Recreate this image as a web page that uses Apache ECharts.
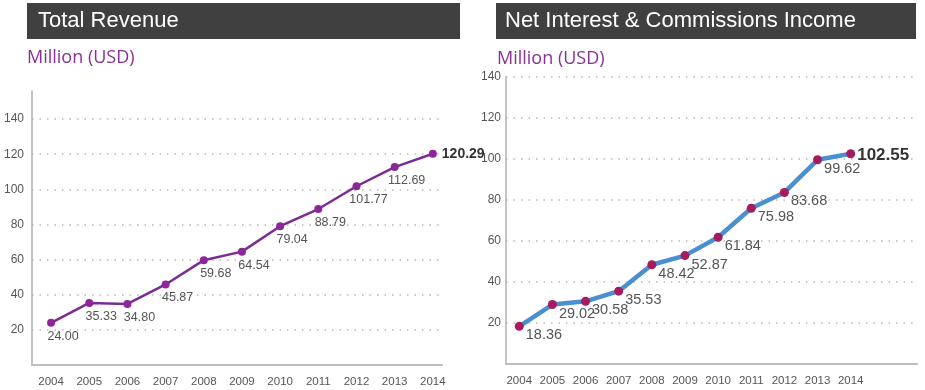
<!DOCTYPE html>
<html>
<head>
<meta charset="utf-8">
<script src="https://cdn.jsdelivr.net/npm/echarts@6/dist/echarts.min.js"></script>
<style>
html,body{margin:0;padding:0;background:#fff;}
#chart{width:925px;height:390px;}
</style>
</head>
<body>
<div id="chart"></div>
<script>
// ---- data ----
const years = [2004, 2005, 2006, 2007, 2008, 2009, 2010, 2011, 2012, 2013, 2014];
const totalRevenue = [24.00, 35.33, 34.80, 45.87, 59.68, 64.54, 79.04, 88.79, 101.77, 112.69, 120.29];
const netInterestIncome = [18.36, 29.02, 30.58, 35.53, 48.42, 52.87, 61.84, 75.98, 83.68, 99.62, 102.55];
const leftTitle = 'Total Revenue';
const rightTitle = 'Net Interest & Commissions Income';
const unitLabel = 'Million (USD)';

const chart = echarts.init(document.getElementById('chart'), null, {renderer: 'canvas'});

function pairs(vals, lastLabel) {
  return vals.map((v, i) => {
    const item = {value: [years[i], v]};
    if (i === vals.length - 1) item.label = lastLabel;
    return item;
  });
}

const yearFmt = v => (Math.abs(v - Math.round(v)) < 1e-6 && v >= years[0] - 1e-6 && v <= years[years.length - 1] + 1e-6) ? String(Math.round(v)) : '';
const yFmt = v => (v > 0 && Math.abs(v / 20 - Math.round(v / 20)) < 1e-6) ? String(v) : '';

const gridLine = {show: true, showMinLine: false, lineStyle: {type: [1.5, 6], width: 1.5, color: '#b8b8b8'}};
const labelFont = 'Liberation Sans, Arial, sans-serif';

const option = {
  animation: false,
  backgroundColor: '#ffffff',
  textStyle: {fontFamily: labelFont},
  graphic: [
    {type: 'rect', shape: {x: 27, y: 3, width: 433, height: 36}, style: {fill: '#404040'}},
    {type: 'text', x: 38, y: 21, style: {text: leftTitle, fill: '#ffffff', font: '22px "Liberation Sans", Arial, sans-serif', textVerticalAlign: 'middle'}},
    {type: 'rect', shape: {x: 496, y: 3, width: 420, height: 36}, style: {fill: '#404040'}},
    {type: 'text', x: 505, y: 21, style: {text: rightTitle, fill: '#ffffff', font: '22px "Liberation Sans", Arial, sans-serif', textVerticalAlign: 'middle'}},
    {type: 'text', x: 27, y: 58, style: {text: unitLabel, fill: '#8b3196', font: '18px "Open Sans", "Noto Sans", sans-serif', textVerticalAlign: 'middle'}},
    {type: 'text', x: 497, y: 59, style: {text: unitLabel, fill: '#8b3196', font: '18px "Open Sans", "Noto Sans", sans-serif', textVerticalAlign: 'middle'}}
  ],
  grid: [
    {left: 32, top: 91, width: 410, height: 274},
    {left: 506, top: 77, width: 411, height: 287}
  ],
  xAxis: [
    {
      type: 'value', gridIndex: 0, min: 2003.5, max: 2014.24, minInterval: 1, maxInterval: 1,
      axisLine: {show: true, lineStyle: {color: '#bdbdbd', width: 2}},
      axisTick: {show: false}, splitLine: {show: false},
      axisLabel: {formatter: yearFmt, color: '#555', fontSize: 11.5, margin: 11, showMinLabel: false, showMaxLabel: false}
    },
    {
      type: 'value', gridIndex: 1, min: 2003.6, max: 2016, minInterval: 1, maxInterval: 1,
      axisLine: {show: true, lineStyle: {color: '#bdbdbd', width: 2}},
      axisTick: {show: false}, splitLine: {show: false},
      axisLabel: {formatter: yearFmt, color: '#555', fontSize: 11.5, margin: 11, showMinLabel: false, showMaxLabel: false}
    }
  ],
  yAxis: [
    {
      type: 'value', gridIndex: 0, min: 0, max: 156, interval: 20,
      axisLine: {show: true, lineStyle: {color: '#b0b0b0', width: 1.5}},
      axisTick: {show: false},
      splitLine: Object.assign({}, gridLine, {showMaxLine: false}),
      axisLabel: {formatter: yFmt, color: '#555', fontSize: 12, margin: 8}
    },
    {
      type: 'value', gridIndex: 1, min: 0, max: 140, interval: 20,
      axisLine: {show: true, lineStyle: {color: '#b0b0b0', width: 1.5}},
      axisTick: {show: false},
      splitLine: Object.assign({}, gridLine, {showMaxLine: true}),
      axisLabel: {formatter: yFmt, color: '#555', fontSize: 12, margin: 5}
    }
  ],
  series: [
    {
      type: 'line', xAxisIndex: 0, yAxisIndex: 0,
      data: pairs(totalRevenue, {position: 'right', distance: 5, offset: [0, 0], fontSize: 14, fontWeight: 'bold', color: '#333'}),
      lineStyle: {color: '#7a2c92', width: 2.5},
      itemStyle: {color: '#8d2696'},
      symbol: 'circle', symbolSize: 8, showAllSymbol: true,
      label: {show: true, position: 'bottom', distance: 3, offset: [12, 0], color: '#555', fontSize: 12.5,
              formatter: p => p.value[1].toFixed(2)}
    },
    {
      type: 'line', xAxisIndex: 1, yAxisIndex: 1,
      data: pairs(netInterestIncome, {position: 'right', distance: 2, offset: [0, 2], fontSize: 17, fontWeight: 'bold', color: '#333'}),
      lineStyle: {color: '#4a8fd0', width: 4.5},
      itemStyle: {color: '#a51b5d'},
      symbol: 'circle', symbolSize: 9, showAllSymbol: true,
      label: {show: true, position: 'right', distance: 2, offset: [0, 9], color: '#555', fontSize: 14.5,
              formatter: p => p.value[1].toFixed(2)}
    }
  ]
};
chart.setOption(option);
</script>
</body>
</html>
